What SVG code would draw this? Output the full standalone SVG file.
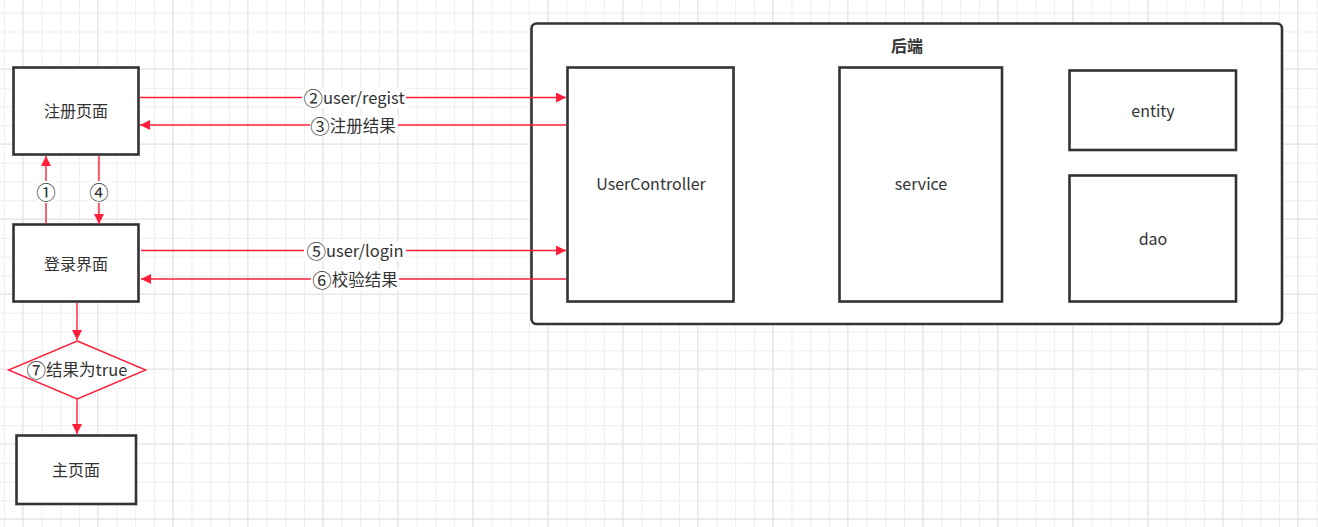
<svg xmlns="http://www.w3.org/2000/svg" width="1318" height="527" viewBox="0 0 1318 527">
<style>
.box{fill:#fff;stroke:#333;stroke-width:2.6}
.t{font-family:"Noto Sans CJK SC","Noto Sans",sans-serif;font-size:16px;fill:#333;text-anchor:middle;dominant-baseline:central}
.lbl{font-family:"Noto Sans CJK SC","Noto Sans",sans-serif;font-size:16.5px;fill:#333;text-anchor:middle;dominant-baseline:central}
.c{font-size:19.5px}
.e{fill:none;stroke:#ff1f3a;stroke-width:1.4}
.bg{fill:#fff}
</style>
<defs>
<pattern id="minor" width="18.75" height="18.75" patternUnits="userSpaceOnUse" x="3.95" y="-6">
<path d="M0 0.5H18.75M0.5 0V18.75" fill="none" stroke="#eeeeee" stroke-width="1"/>
</pattern>
<pattern id="major" width="75" height="75" patternUnits="userSpaceOnUse" x="22.2" y="-6.5">
<path d="M0 0.5H75M0.5 0V75" fill="none" stroke="#e3e3e3" stroke-width="1"/>
</pattern>
<marker id="arr" viewBox="0 0 10 10" refX="10" refY="5" markerWidth="10" markerHeight="10" markerUnits="userSpaceOnUse" orient="auto">
<path d="M0 0L10 5L0 10z" fill="#ff1f3a"/>
</marker>
</defs>
<rect width="1318" height="527" fill="#fff"/>
<rect width="1318" height="527" fill="url(#minor)"/>
<rect width="1318" height="527" fill="url(#major)"/>

<g id="backend">
<rect class="box" x="531.5" y="23.5" width="750.5" height="300.5" rx="5"/>
<text class="t" x="907" y="45" font-weight="bold">后端</text>
</g>
<g id="usercontroller">
<rect class="box" x="567.5" y="67.5" width="166" height="234"/>
<text class="t" x="651" y="183">UserController</text>
</g>
<g id="service">
<rect class="box" x="839.5" y="67.5" width="162.5" height="234"/>
<text class="t" x="921" y="183">service</text>
</g>
<g id="entity">
<rect class="box" x="1069.5" y="70.5" width="166.5" height="79.5"/>
<text class="t" x="1153" y="110">entity</text>
</g>
<g id="dao">
<rect class="box" x="1069.5" y="175.5" width="166.5" height="126"/>
<text class="t" x="1153" y="238">dao</text>
</g>
<g id="register">
<rect class="box" x="13.5" y="67.5" width="125" height="87"/>
<text class="t" x="76" y="110">注册页面</text>
</g>
<g id="login">
<rect class="box" x="13.5" y="224.5" width="125" height="77"/>
<text class="t" x="76" y="263">登录界面</text>
</g>
<g id="decision">
<polygon points="77.3,341 145.7,370 77.3,399 8.5,370" fill="#fff" stroke="#ff1f3a" stroke-width="1.4"/>
<text class="lbl" x="77" y="369"><tspan class="c">⑦</tspan>结果为true</text>
</g>
<g id="main">
<rect class="box" x="16.5" y="435.5" width="119.5" height="68.5"/>
<text class="t" x="76" y="469">主页面</text>
</g>

<g id="connectors">
<path class="e" d="M46 224V156" marker-end="url(#arr)"/>
<rect class="bg" x="36" y="181" width="20" height="22"/>
<text class="lbl" x="46" y="191"><tspan class="c">①</tspan></text>
<path class="e" d="M99 156V224" marker-end="url(#arr)"/>
<rect class="bg" x="89" y="181" width="20" height="22"/>
<text class="lbl" x="99" y="191"><tspan class="c">④</tspan></text>

<path class="e" d="M140 97.5H566" marker-end="url(#arr)"/>
<rect class="bg" x="302" y="88" width="104" height="20"/>
<text class="lbl" x="354" y="97"><tspan class="c">②</tspan>user/regist</text>
<path class="e" d="M566 125H140" marker-end="url(#arr)"/>
<rect class="bg" x="310" y="116" width="88" height="20"/>
<text class="lbl" x="353" y="125"><tspan class="c">③</tspan>注册结果</text>

<path class="e" d="M141 250.5H566" marker-end="url(#arr)"/>
<rect class="bg" x="304" y="241" width="102" height="20"/>
<text class="lbl" x="355" y="250"><tspan class="c">⑤</tspan>user/login</text>
<path class="e" d="M566 279H141" marker-end="url(#arr)"/>
<rect class="bg" x="311" y="270" width="88" height="20"/>
<text class="lbl" x="355" y="279"><tspan class="c">⑥</tspan>校验结果</text>

<path class="e" d="M77 303V340" marker-end="url(#arr)"/>
<path class="e" d="M77 399V434" marker-end="url(#arr)"/>
</g>
</svg>
